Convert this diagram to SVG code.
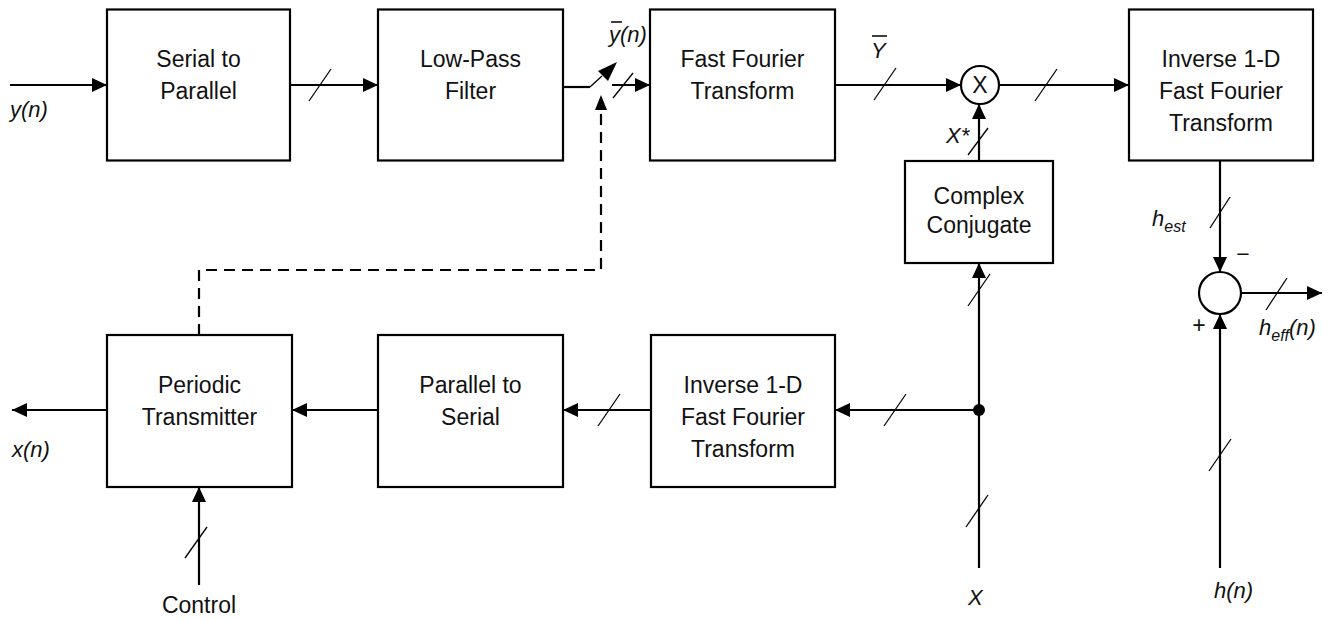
<svg xmlns="http://www.w3.org/2000/svg" width="1330" height="620" viewBox="0 0 1330 620">
  <style>
    .box { fill: #ffffff; stroke: #000000; stroke-width: 2.2; }
    .lbl { font-family: "Liberation Sans", Arial, sans-serif; font-size: 23px; fill: #111111; text-anchor: middle; }
    .sig { font-family: "Liberation Sans", Arial, sans-serif; font-size: 22px; font-style: italic; fill: #111111; }
    .wire { fill: none; stroke: #000000; stroke-width: 2.2; }
    .bus { fill: none; stroke: #000000; stroke-width: 1.3; }
    .dash { fill: none; stroke: #000000; stroke-width: 2.2; stroke-dasharray: 11 7; }
    .arr { marker-end: url(#head); }
  </style>
  <defs>
    <marker id="head" markerUnits="userSpaceOnUse" markerWidth="16" markerHeight="14" refX="15" refY="7" orient="auto">
      <path d="M0,0 L15,7 L0,14 Z" fill="#000000"/>
    </marker>
  </defs>

  <!-- blocks -->
  <g id="serial-to-parallel">
    <rect class="box" x="107" y="9.5" width="183" height="151"/>
    <text class="lbl" x="198.5" y="67">Serial to</text>
    <text class="lbl" x="198.5" y="99">Parallel</text>
  </g>
  <g id="low-pass-filter">
    <rect class="box" x="378" y="9.5" width="185" height="151"/>
    <text class="lbl" x="470.5" y="67">Low-Pass</text>
    <text class="lbl" x="470.5" y="99">Filter</text>
  </g>
  <g id="fft">
    <rect class="box" x="650" y="9.5" width="185" height="151"/>
    <text class="lbl" x="742.5" y="67">Fast Fourier</text>
    <text class="lbl" x="742.5" y="99">Transform</text>
  </g>
  <g id="multiplier">
    <circle class="box" cx="980" cy="85" r="19"/>
    <text class="lbl" x="980" y="93">X</text>
  </g>
  <g id="ifft-top">
    <rect class="box" x="1129" y="9.5" width="184" height="151"/>
    <text class="lbl" x="1221" y="67">Inverse 1-D</text>
    <text class="lbl" x="1221" y="99">Fast Fourier</text>
    <text class="lbl" x="1221" y="131">Transform</text>
  </g>
  <g id="complex-conjugate">
    <rect class="box" x="905" y="161" width="148" height="102"/>
    <text class="lbl" x="979" y="204">Complex</text>
    <text class="lbl" x="979" y="233">Conjugate</text>
  </g>
  <g id="summing-junction">
    <circle class="box" cx="1220" cy="293" r="21"/>
  </g>
  <g id="periodic-transmitter">
    <rect class="box" x="107" y="335" width="185" height="152"/>
    <text class="lbl" x="199.5" y="393">Periodic</text>
    <text class="lbl" x="199.5" y="425">Transmitter</text>
  </g>
  <g id="parallel-to-serial">
    <rect class="box" x="378" y="335" width="185" height="152"/>
    <text class="lbl" x="470.5" y="393">Parallel to</text>
    <text class="lbl" x="470.5" y="425">Serial</text>
  </g>
  <g id="ifft-bottom">
    <rect class="box" x="651" y="335" width="184" height="152"/>
    <text class="lbl" x="743" y="393">Inverse 1-D</text>
    <text class="lbl" x="743" y="425">Fast Fourier</text>
    <text class="lbl" x="743" y="457">Transform</text>
  </g>

  <!-- connectors -->
  <g id="connectors">
    <line class="wire arr" x1="10" y1="85" x2="107" y2="85"/>
    <line class="wire arr" x1="290" y1="85" x2="378" y2="85"/>
    <line class="wire" x1="563" y1="87" x2="590" y2="87"/>
    <!-- switch blade -->
    <line class="bus" x1="590" y1="87" x2="602" y2="76"/>
    <path d="M617,62 L598,71 L608,81 Z" fill="#000000"/>
    <line class="wire arr" x1="612" y1="85" x2="650" y2="85"/>
    <line class="wire arr" x1="835" y1="85" x2="961" y2="85"/>
    <line class="wire arr" x1="999" y1="85" x2="1129" y2="85"/>
    <!-- dashed control path to the switch -->
    <polyline class="dash" points="199,335 199,270 601,270 601,110"/>
    <path d="M601,95 L595,110 L607,110 Z" fill="#000000"/>
    <line class="wire arr" x1="979" y1="161" x2="979" y2="104"/>
    <line class="wire arr" x1="979" y1="568" x2="979" y2="263"/>
    <circle cx="979" cy="410" r="6" fill="#000000"/>
    <line class="wire arr" x1="979" y1="410" x2="835" y2="410"/>
    <line class="wire arr" x1="651" y1="410" x2="563" y2="410"/>
    <line class="wire arr" x1="378" y1="410" x2="292" y2="410"/>
    <line class="wire arr" x1="107" y1="410" x2="12" y2="410"/>
    <line class="wire arr" x1="199" y1="585" x2="199" y2="487"/>
    <line class="wire arr" x1="1220" y1="161" x2="1220" y2="272"/>
    <line class="wire arr" x1="1241" y1="293" x2="1322" y2="293"/>
    <line class="wire arr" x1="1220" y1="568" x2="1220" y2="314"/>

    <!-- bus width slashes -->
    <line class="bus" x1="309" y1="101" x2="331" y2="69"/>
    <line class="bus" x1="613" y1="98" x2="633" y2="73"/>
    <line class="bus" x1="874" y1="100" x2="896" y2="68"/>
    <line class="bus" x1="1035" y1="101" x2="1057" y2="69"/>
    <line class="bus" x1="968" y1="155" x2="988" y2="128"/>
    <line class="bus" x1="968" y1="306" x2="990" y2="274"/>
    <line class="bus" x1="966" y1="527" x2="988" y2="495"/>
    <line class="bus" x1="884" y1="426" x2="906" y2="394"/>
    <line class="bus" x1="598" y1="426" x2="620" y2="394"/>
    <line class="bus" x1="185" y1="558" x2="207" y2="527"/>
    <line class="bus" x1="1210" y1="228" x2="1230" y2="197"/>
    <line class="bus" x1="1266" y1="310" x2="1287" y2="278"/>
    <line class="bus" x1="1209" y1="471" x2="1231" y2="439"/>
  </g>

  <!-- signal labels -->
  <g id="labels">
    <text class="sig" x="10" y="117">y(n)</text>
    <text class="sig" x="609" y="42">y(n)</text>
    <line x1="611" y1="22" x2="622" y2="22" stroke="#000000" stroke-width="1.5"/>
    <text class="sig" x="871" y="58">Y</text>
    <line x1="872" y1="36" x2="887" y2="36" stroke="#000000" stroke-width="1.5"/>
    <text class="sig" x="946" y="143">X*</text>
    <text class="sig" x="12" y="457">x(n)</text>
    <text class="lbl" x="199" y="613">Control</text>
    <text class="sig" x="968" y="605">X</text>
    <text class="sig" x="1214" y="598">h(n)</text>
    <text class="sig" x="1152" y="226">h<tspan font-size="16" dy="6">est</tspan></text>
    <text class="lbl" x="1243" y="262">−</text>
    <text class="lbl" x="1199" y="333">+</text>
    <text class="sig" x="1259" y="335">h<tspan font-size="16" dy="6">eff</tspan><tspan dy="-6">(n)</tspan></text>
  </g>
</svg>
